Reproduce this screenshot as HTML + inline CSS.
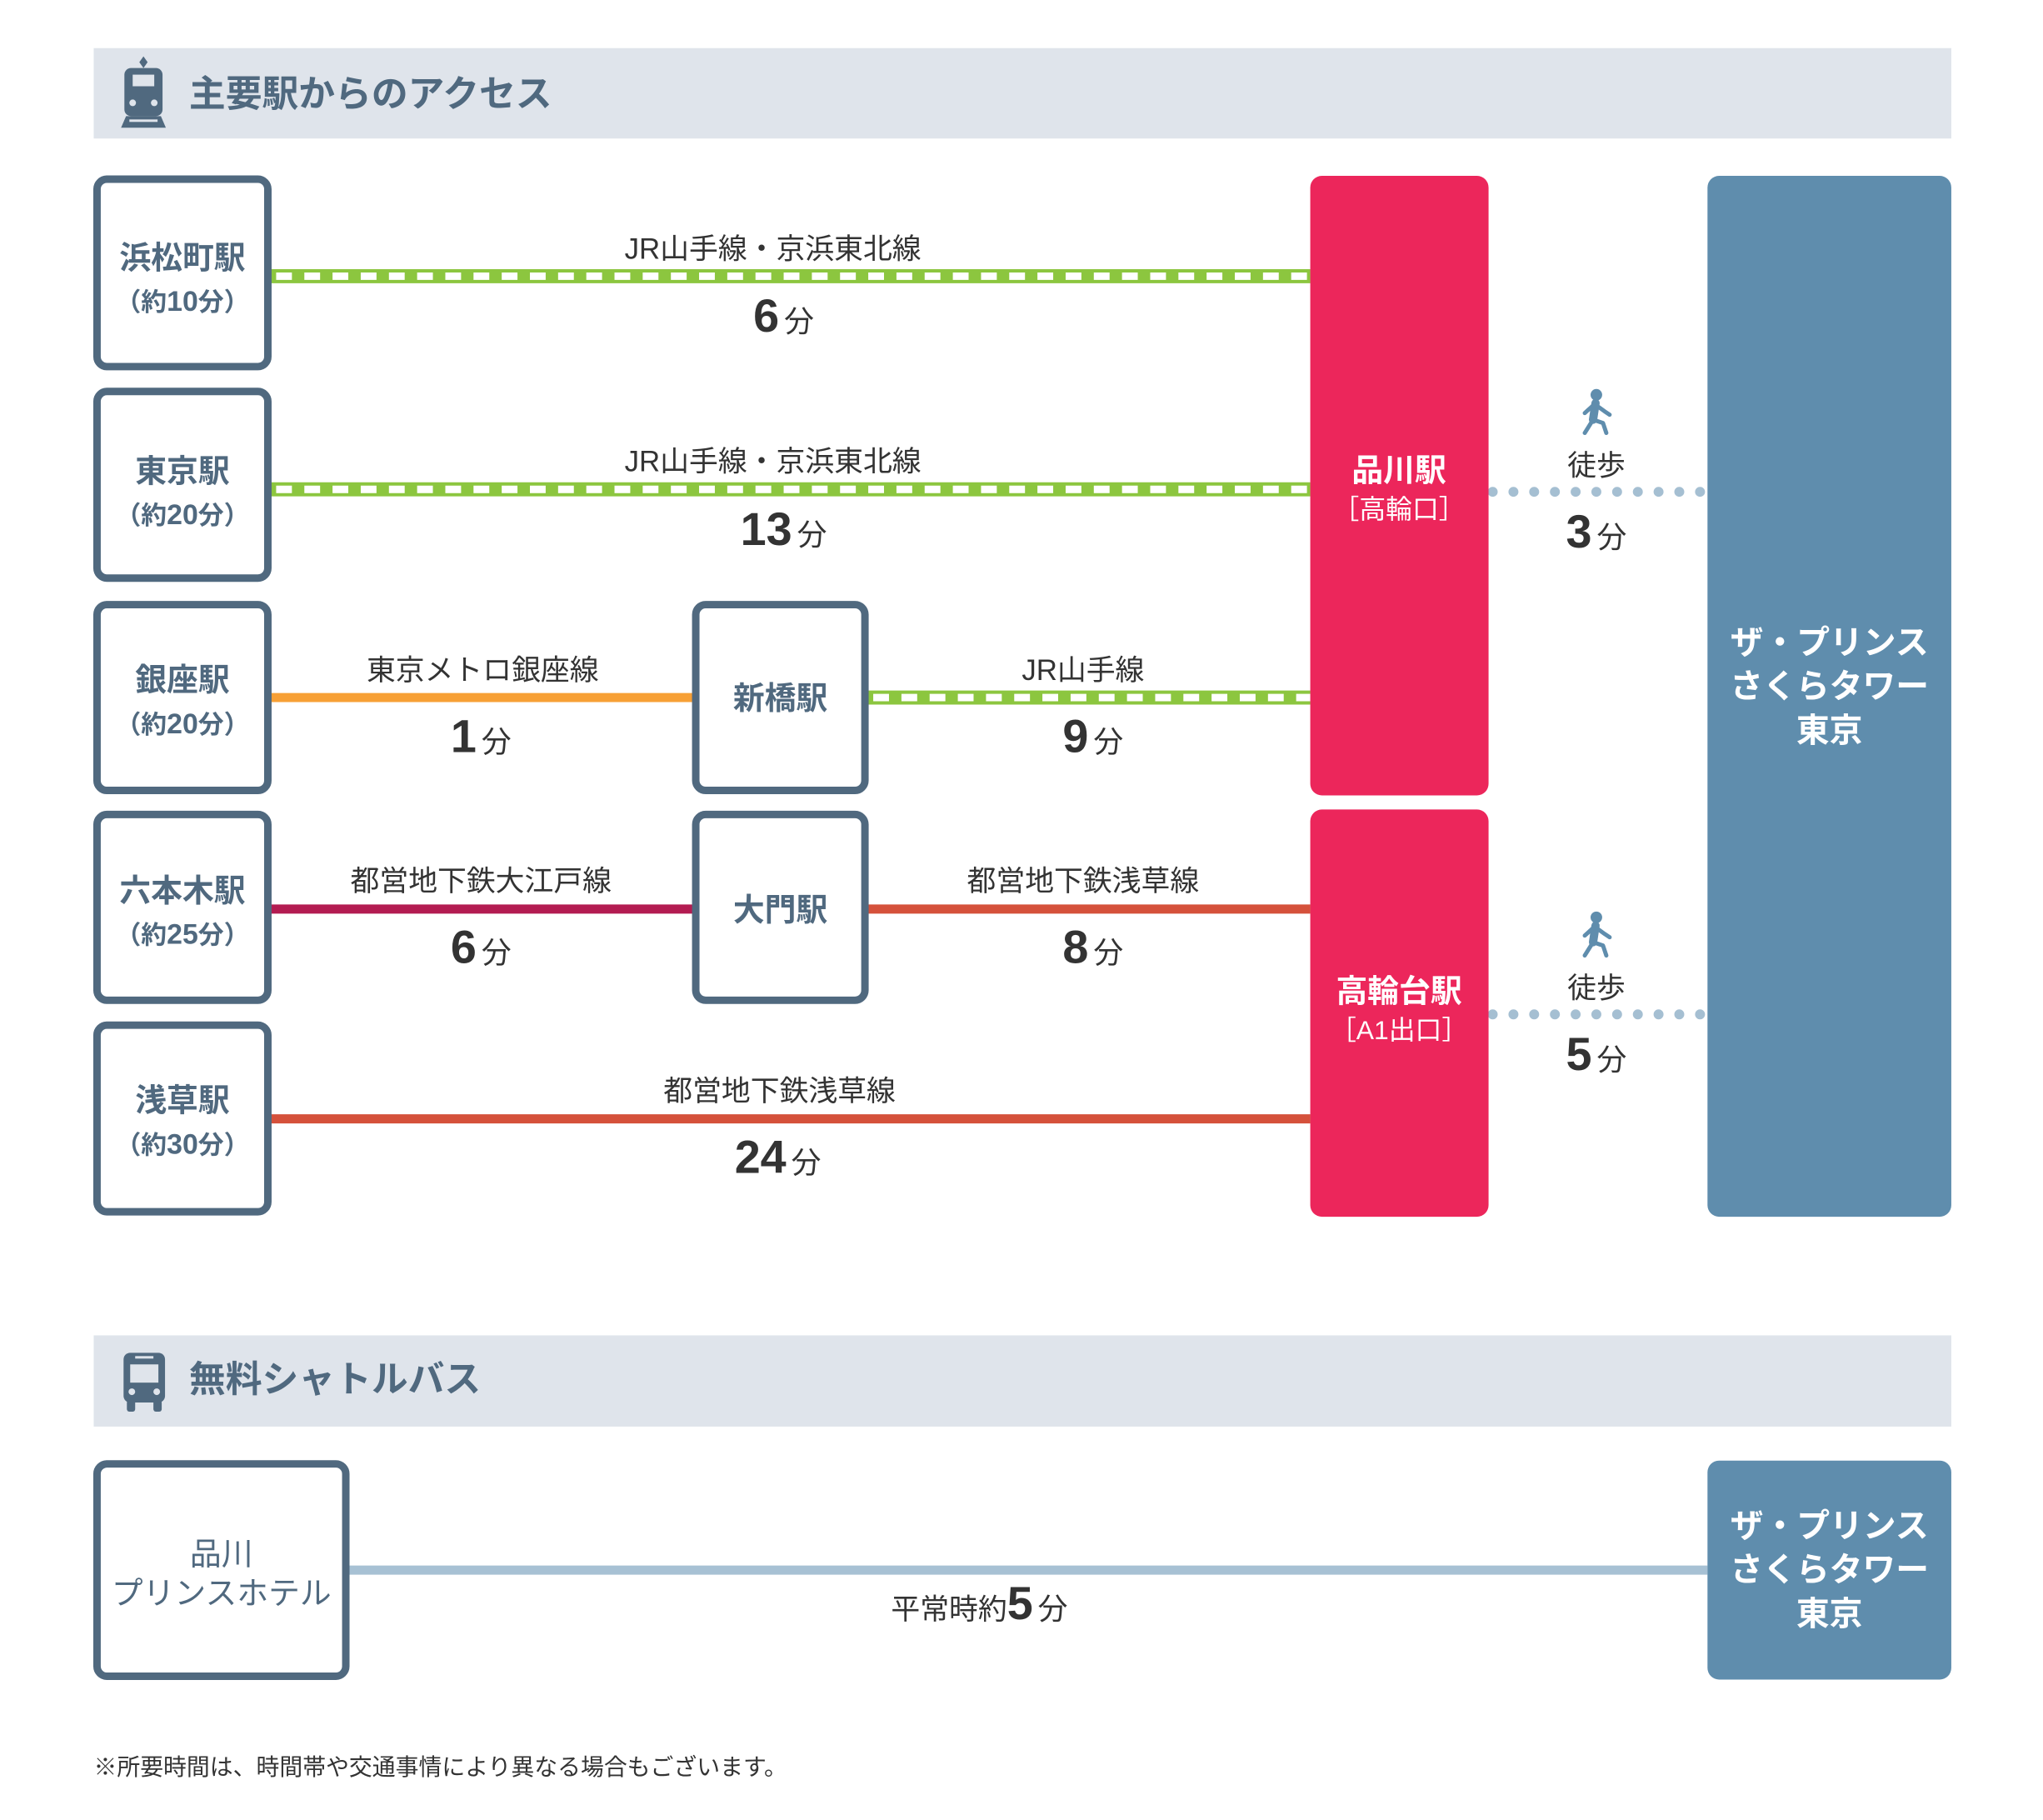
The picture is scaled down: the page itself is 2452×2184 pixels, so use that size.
<!DOCTYPE html>
<html><head><meta charset="utf-8"><style>
html,body{margin:0;padding:0;background:#fff;}
svg{display:block;}
text{font-family:"Liberation Sans","Noto Sans CJK JP",sans-serif;}
</style></head><body>
<svg width="2452" height="2184" viewBox="0 0 2452 2184" xmlns="http://www.w3.org/2000/svg">
<g transform="scale(0.9953)">
<!-- header 1 -->
<rect x="113" y="58" width="2240" height="109" fill="#dfe4eb"/>
<g fill="#50697f">
 <rect x="150" y="82" width="46" height="58" rx="8"/>
 <rect x="160" y="90" width="26" height="14" fill="#dfe4eb"/>
 <circle cx="160" cy="124" r="4" fill="#dfe4eb"/><circle cx="186" cy="124" r="4" fill="#dfe4eb"/>
 <path d="M173 68 l5 7 -5 7 -5 -7z"/>
 <path d="M152 140 h42 l6 14 h-54z"/>
 <rect x="156" y="144" width="34" height="3" fill="#dfe4eb"/>
</g>
<text x="228" y="128" font-size="44" fill="#50697f" font-weight="bold">主要駅からのアクセス</text>

<!-- lines -->
<g>
 <line x1="327" y1="333" x2="1580" y2="333" stroke="#8cc63f" stroke-width="17"/>
 <line x1="327" y1="333" x2="1580" y2="333" stroke="#fff" stroke-width="9" stroke-dasharray="19 15" stroke-dashoffset="-6"/>
 <line x1="327" y1="590" x2="1580" y2="590" stroke="#8cc63f" stroke-width="17"/>
 <line x1="327" y1="590" x2="1580" y2="590" stroke="#fff" stroke-width="9" stroke-dasharray="19 15" stroke-dashoffset="-6"/>
 <line x1="327" y1="841" x2="835" y2="841" stroke="#f7a035" stroke-width="11"/>
 <line x1="1047" y1="841" x2="1580" y2="841" stroke="#8cc63f" stroke-width="17"/>
 <line x1="1047" y1="841" x2="1580" y2="841" stroke="#fff" stroke-width="9" stroke-dasharray="19 15" stroke-dashoffset="-6"/>
 <line x1="327" y1="1096" x2="835" y2="1096" stroke="#b31c51" stroke-width="11"/>
 <line x1="1047" y1="1096" x2="1580" y2="1096" stroke="#d5513b" stroke-width="11"/>
 <line x1="327" y1="1349" x2="1580" y2="1349" stroke="#d5513b" stroke-width="11"/>
 <line x1="1800" y1="593" x2="2059" y2="593" stroke="#a5bfd2" stroke-width="12" stroke-linecap="round" stroke-dasharray="0 25"/>
 <line x1="1800" y1="1223" x2="2059" y2="1223" stroke="#a5bfd2" stroke-width="12" stroke-linecap="round" stroke-dasharray="0 25"/>
 <line x1="421" y1="1893" x2="2059" y2="1893" stroke="#a7c1d4" stroke-width="11"/>
</g>

<!-- left boxes -->
<g fill="#fff" stroke="#50697f" stroke-width="9">
 <rect x="117" y="216" width="206" height="226" rx="12"/>
 <rect x="117" y="472" width="206" height="225" rx="12"/>
 <rect x="117" y="729" width="206" height="224" rx="12"/>
 <rect x="117" y="982" width="206" height="224" rx="12"/>
 <rect x="117" y="1236" width="206" height="225" rx="12"/>
 <rect x="839" y="729" width="204" height="224" rx="12"/>
 <rect x="839" y="982" width="204" height="224" rx="12"/>
 <rect x="117" y="1765" width="300" height="256" rx="12"/>
</g>
<g fill="#50697f" text-anchor="middle" font-weight="bold">
 <text x="220" y="324" font-size="38">浜松町駅</text>
 <text x="220" y="375" font-size="31">（約<tspan font-size="34">10</tspan>分）</text>
 <text x="220" y="581" font-size="38">東京駅</text>
 <text x="220" y="632" font-size="31">（約<tspan font-size="34">20</tspan>分）</text>
 <text x="220" y="833" font-size="38">銀座駅</text>
 <text x="220" y="884" font-size="31">（約<tspan font-size="34">20</tspan>分）</text>
 <text x="220" y="1087" font-size="38">六本木駅</text>
 <text x="220" y="1138" font-size="31">（約<tspan font-size="34">25</tspan>分）</text>
 <text x="220" y="1340" font-size="38">浅草駅</text>
 <text x="220" y="1391" font-size="31">（約<tspan font-size="34">30</tspan>分）</text>
 <text x="941" y="855" font-size="38">新橋駅</text>
 <text x="941" y="1110" font-size="38">大門駅</text>
 <text x="267" y="1887" font-size="38" font-weight="normal">品川</text>
 <text x="267" y="1934" font-size="38" font-weight="normal">プリンスホテル</text>
</g>

<!-- red boxes -->
<rect x="1580" y="212" width="215" height="747" rx="14" fill="#ec265b"/>
<rect x="1580" y="976" width="215" height="491" rx="14" fill="#ec265b"/>
<g fill="#fff" text-anchor="middle">
 <text x="1687" y="580" font-size="38" font-weight="bold">品川駅</text>
 <text x="1687" y="625" font-size="32">［高輪口］</text>
 <text x="1687" y="1208" font-size="38" font-weight="bold">高輪台駅</text>
 <text x="1687" y="1253" font-size="32">［A1出口］</text>
</g>

<!-- hotel boxes -->
<rect x="2059" y="212" width="294" height="1255" rx="14" fill="#5f8dad"/>
<rect x="2059" y="1761" width="294" height="264" rx="14" fill="#5f8dad"/>
<g fill="#fff" text-anchor="middle" font-size="40" font-weight="bold">
 <text x="2206" y="788">ザ・プリンス</text>
 <text x="2206" y="841">さくらタワー</text>
 <text x="2206" y="894">東京</text>
 <text x="2206" y="1853">ザ・プリンス</text>
 <text x="2206" y="1906">さくらタワー</text>
 <text x="2206" y="1959">東京</text>
</g>

<!-- line labels -->
<g fill="#333" text-anchor="middle" font-size="35">
 <text x="932" y="312">JR山手線・京浜東北線</text>
 <text x="932" y="568">JR山手線・京浜東北線</text>
 <text x="582" y="820">東京メトロ銀座線</text>
 <text x="1306" y="820">JR山手線</text>
 <text x="580" y="1074">都営地下鉄大江戸線</text>
 <text x="1306" y="1074">都営地下鉄浅草線</text>
 <text x="940" y="1327">都営地下鉄浅草線</text>
 <text x="1925" y="573">徒歩</text>
 <text x="1925" y="1203">徒歩</text>
</g>
<g fill="#333" text-anchor="middle">
 <text x="945" y="400" font-size="56" font-weight="bold">6<tspan font-size="36" font-weight="normal" dx="6">分</tspan></text>
 <text x="945" y="657" font-size="56" font-weight="bold">13<tspan font-size="36" font-weight="normal" dx="6">分</tspan></text>
 <text x="580" y="907" font-size="56" font-weight="bold">1<tspan font-size="36" font-weight="normal" dx="6">分</tspan></text>
 <text x="1318" y="907" font-size="56" font-weight="bold">9<tspan font-size="36" font-weight="normal" dx="6">分</tspan></text>
 <text x="580" y="1161" font-size="56" font-weight="bold">6<tspan font-size="36" font-weight="normal" dx="6">分</tspan></text>
 <text x="1318" y="1161" font-size="56" font-weight="bold">8<tspan font-size="36" font-weight="normal" dx="6">分</tspan></text>
 <text x="938" y="1414" font-size="56" font-weight="bold">24<tspan font-size="36" font-weight="normal" dx="6">分</tspan></text>
 <text x="1925" y="660" font-size="56" font-weight="bold">3<tspan font-size="36" font-weight="normal" dx="6">分</tspan></text>
 <text x="1925" y="1290" font-size="56" font-weight="bold">5<tspan font-size="36" font-weight="normal" dx="6">分</tspan></text>
 <text x="1181" y="1952" font-size="35">平常時約<tspan font-size="56" font-weight="bold">5</tspan><tspan font-size="36" dx="6">分</tspan></text>
</g>

<!-- walkers -->
<g fill="#5f8dad" stroke="#5f8dad" stroke-linecap="round" stroke-linejoin="round">
 <g transform="translate(1925,500)">
  <circle cx="0" cy="-24" r="7" stroke="none"/>
  <path d="M-1 -14 L-4 6" stroke-width="10" fill="none"/>
  <path d="M-3 -12 L-14 -2 M-1 -12 L10 -4 L16 0 M-4 6 L-14 22 M-4 6 L8 10 L12 22" stroke-width="5" fill="none"/>
 </g>
 <g transform="translate(1925,1130)">
  <circle cx="0" cy="-24" r="7" stroke="none"/>
  <path d="M-1 -14 L-4 6" stroke-width="10" fill="none"/>
  <path d="M-3 -12 L-14 -2 M-1 -12 L10 -4 L16 0 M-4 6 L-14 22 M-4 6 L8 10 L12 22" stroke-width="5" fill="none"/>
 </g>
</g>

<!-- header 2 -->
<rect x="113" y="1610" width="2240" height="110" fill="#dfe4eb"/>
<g fill="#50697f">
 <rect x="149" y="1631" width="50" height="60" rx="8"/>
 <rect x="157" y="1645" width="34" height="22" fill="#dfe4eb"/>
 <rect x="163" y="1635" width="22" height="3" fill="#dfe4eb"/>
 <circle cx="159" cy="1678" r="4" fill="#dfe4eb"/><circle cx="189" cy="1678" r="4" fill="#dfe4eb"/>
 <rect x="153" y="1688" width="10" height="14" rx="3"/><rect x="185" y="1688" width="10" height="14" rx="3"/>
</g>
<text x="228" y="1678" font-size="44" fill="#50697f" font-weight="bold">無料シャトルバス</text>

<text x="113" y="2140" font-size="28" fill="#333">※所要時間は、時間帯や交通事情により異なる場合もございます。</text>
</g>
</svg>
</body></html>
